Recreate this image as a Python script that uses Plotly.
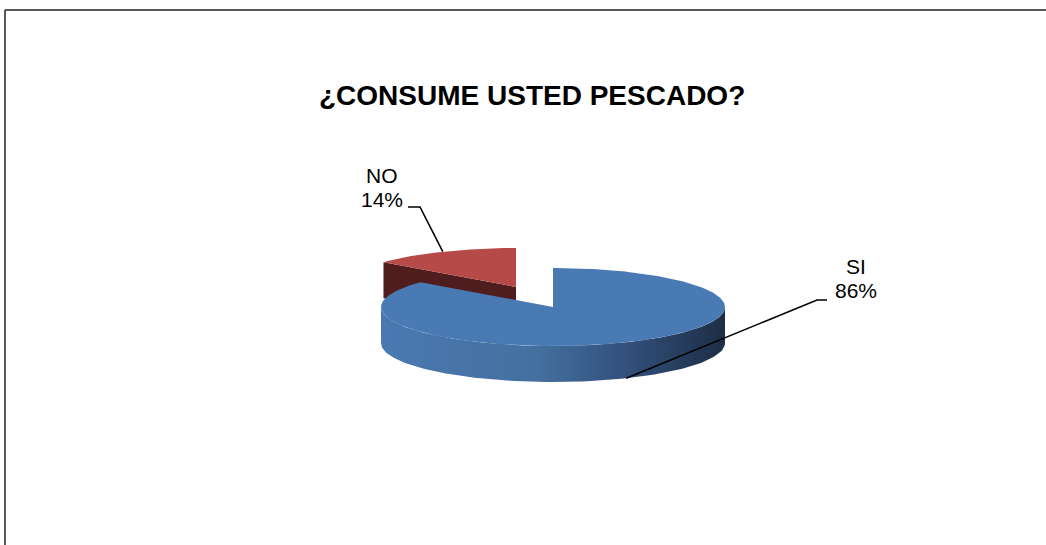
import numpy as np
import plotly.graph_objects as go

# ---- data ----
categories = ["SI", "NO"]
values = [86, 14]
top_colors = ["#4a7ab4", "#b64a48"]
wall_colors = ["#2c4a72", "#4f1d1d"]
title_text = "¿CONSUME USTED PESCADO?"

# ---- geometry (pixel space) ----
W, H = 1046, 545
CX, CY = 553, 307          # centre of top face of the un-exploded pie
A, B = 172, 39              # ellipse semi axes
T = 36                      # thickness
explode = {"NO": (-37, -20)}

total = float(sum(values))
fracs = [v / total for v in values]
starts = np.cumsum([0] + fracs[:-1]) * 360.0
ends = np.cumsum(fracs) * 360.0


def pt(cx, cy, th_deg, dy=0.0):
    th = np.radians(th_deg)
    return cx + A * np.sin(th), cy - B * np.cos(th) + dy


def arc(cx, cy, t0, t1, dy=0.0, n=120):
    th = np.linspace(t0, t1, n)
    x, y = pt(cx, cy, th, dy)
    return list(x), list(y)


fig = go.Figure()

order = sorted(range(len(values)), key=lambda i: 0 if categories[i] in explode else 1)
geo = {}
for i in order:
    name = categories[i]
    ox, oy = explode.get(name, (0, 0))
    cx, cy = CX + ox, CY + oy
    t0, t1 = starts[i], ends[i]
    geo[name] = (cx, cy, t0, t1)

    # radial walls that face the viewer
    for th, sign in ((t0, -1), (t1, 1)):
        r = np.radians(th)
        nz = sign * np.sin(r)
        if nz > 1e-6:
            px, py = pt(cx, cy, th)
            xs = [cx, px, px, cx, cx]
            ys = [cy, py, py + T, cy + T, cy]
            fig.add_trace(go.Scatter(x=xs, y=ys, fill="toself", mode="lines",
                                     line=dict(width=0), fillcolor=wall_colors[i],
                                     hoverinfo="skip", showlegend=False))

    # curved front wall (visible for angles 90..270)
    f0, f1 = max(t0, 90), min(t1, 270)
    if f1 > f0:
        xa, ya = arc(cx, cy, f0, f1)
        xb, yb = arc(cx, cy, f1, f0, dy=T)
        kw = dict(x=xa + xb + [xa[0]], y=ya + yb + [ya[0]], fill="toself",
                  mode="lines", line=dict(width=0), hoverinfo="skip", showlegend=False)
        if name == "SI":
            kw["fillgradient"] = dict(type="horizontal", start=cx - A, stop=cx + A,
                                      colorscale=[[0, "#4a79b2"], [0.45, "#44709f"],
                                                  [0.7, "#33527e"], [1, "#1d2d45"]])
        else:
            kw["fillcolor"] = wall_colors[i]
        fig.add_trace(go.Scatter(**kw))

    # top face
    xa, ya = arc(cx, cy, t0, t1, n=300)
    fig.add_trace(go.Scatter(x=[cx] + xa + [cx], y=[cy] + ya + [cy], fill="toself",
                             mode="lines", line=dict(width=0), fillcolor=top_colors[i],
                             hoverinfo="skip", showlegend=False))

# ---- leader lines and labels ----
label_pos = {"NO": (382, 175, 199), "SI": (856, 266, 290)}
for i, name in enumerate(categories):
    cx, cy, t0, t1 = geo[name]
    mid = (t0 + t1) / 2
    if name == "NO":
        ex, ey = pt(cx, cy, mid)
        lx = [ex, 420, 408]
        ly = [ey, 207, 207]
    else:
        ex, ey = pt(cx, cy, mid, dy=T)
        lx = [ex, 817, 827]
        ly = [ey, 300, 300]
    fig.add_trace(go.Scatter(x=lx, y=ly, mode="lines",
                             line=dict(color="black", width=1.6),
                             hoverinfo="skip", showlegend=False))
    tx, ty1, ty2 = label_pos[name]
    lab_font = dict(family="Liberation Sans, Arial", size=21, color="black")
    fig.add_annotation(x=tx, y=ty1, xref="x", yref="y", showarrow=False,
                       text=name, font=lab_font, height=21, borderpad=0)
    fig.add_annotation(x=tx, y=ty2, xref="x", yref="y", showarrow=False,
                       text=f"{round(values[i] / total * 100)}%", font=lab_font,
                       height=21, borderpad=0)

fig.add_annotation(x=532, y=95, xref="x", yref="y", showarrow=False,
                   text=f"<b>{title_text}</b>",
                   font=dict(family="Liberation Sans, Arial", size=28, color="black"))

# border
fig.add_shape(type="line", x0=5, x1=W + 5, y0=10, y1=10, xref="x", yref="y",
              line=dict(color="#222222", width=1.5))
fig.add_shape(type="line", x0=5, x1=5, y0=10, y1=H + 5, xref="x", yref="y",
              line=dict(color="#222222", width=1.5))

fig.update_layout(
    width=W, height=H,
    margin=dict(l=0, r=0, t=0, b=0),
    paper_bgcolor="white", plot_bgcolor="white",
    xaxis=dict(range=[0, W], visible=False, fixedrange=True),
    yaxis=dict(range=[H, 0], visible=False, fixedrange=True),
)

fig.write_html("out.html", config={"displayModeBar": False},
               post_script="document.body.style.margin='0';document.body.style.overflow='hidden';")
